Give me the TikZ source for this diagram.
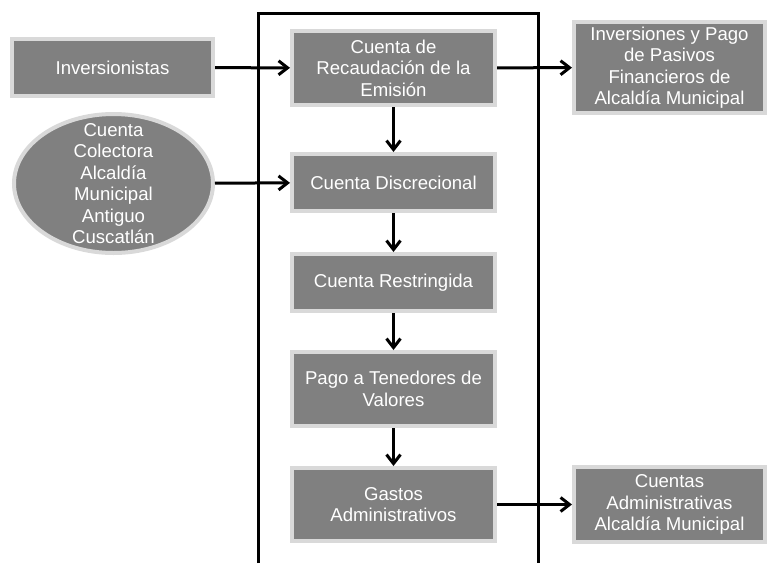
\documentclass[tikz,border=0pt]{standalone}
\usepackage{fontspec}
\setmainfont{Liberation Sans}
\usetikzlibrary{arrows.meta,shapes.geometric}
\definecolor{relleno}{HTML}{808080}
\definecolor{borde}{HTML}{D9D9D9}
\tikzset{
	caja/.style={draw=borde, line width=4pt, fill=relleno, text=white, align=center, inner sep=0pt},
	flecha/.style={line width=3pt, -{Straight Barb[length=9pt,width=14pt]}}
}
\begin{document}
	\begin{tikzpicture}[x=1pt, y=-1pt, font=\fontsize{18.6}{21.5}\selectfont]
		\useasboundingbox (0,0) rectangle (768,563);
		\draw [line width=3pt] (258,563) |- (538,13) -- (538,563);
		\node (inv) [caja, minimum width=201pt, minimum height=57pt] at (112.5,67.5) {Inversionistas};
		\node (col) [caja, ellipse, minimum width=199pt, minimum height=139pt, label={[text=white, align=center]center:Cuenta\\Colectora\\Alcaldía\\Municipal\\Antiguo\\Cuscatlán}] at (113.5,183.5) {};
		\node (rec) [caja, minimum width=203pt, minimum height=74pt] at (393.5,68) {Cuenta de\\Recaudación de la\\Emisión};
		\node (dis) [caja, minimum width=203pt, minimum height=57pt] at (393.5,182.5) {Cuenta Discrecional};
		\node (res) [caja, minimum width=203pt, minimum height=57pt] at (393.5,282.5) {Cuenta Restringida};
		\node (pag) [caja, minimum width=203pt, minimum height=74pt] at (393.5,389) {Pago a Tenedores de\\Valores};
		\node (gas) [caja, minimum width=203pt, minimum height=73pt] at (393.5,504.5) {Gastos\\Administrativos};
		\node (ipf) [caja, minimum width=191pt, minimum height=91pt] at (669.5,67.5) {Inversiones y Pago\\de Pasivos\\Financieros de\\Alcaldía Municipal};
		\node (cad) [caja, minimum width=191pt, minimum height=75pt] at (669.5,504.5) {Cuentas\\Administrativas\\Alcaldía Municipal};
		\draw [flecha] (inv) -- (rec);
		\draw [flecha] (col) -- (dis);
		\draw [flecha] (rec) -- (ipf);
		\draw [flecha] (gas) -- (cad);
		\draw [flecha] (rec) -- (dis);
		\draw [flecha] (dis) -- (res);
		\draw [flecha] (res) -- (pag);
		\draw [flecha] (pag) -- (gas);
	\end{tikzpicture}
\end{document}
